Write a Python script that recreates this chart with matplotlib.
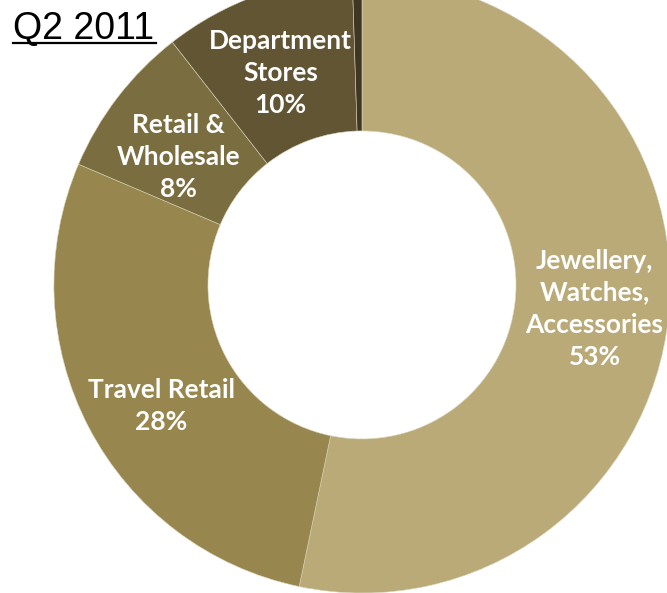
import numpy as np
import matplotlib.pyplot as plt
from matplotlib.lines import Line2D

# Q2 2011 sales split by channel
channels = ["Jewellery,\nWatches,\nAccessories", "Travel Retail", "Retail &\nWholesale",
            "Department\nStores", ""]
shares = [53, 28, 8, 10, 0.5]
colors = ["#B9AA78", "#97864D", "#7A6D3F", "#615533", "#3F3623"]

# small nudges (points) for each label, relative to the segment centre
nudge = [(2, 0), (3, -10), (0, -9), (-2, -4), (0, 0)]

fig = plt.figure(figsize=(6.67, 5.93), dpi=100)
ax = fig.add_axes([0, 0, 1, 1])

wedges, _ = ax.pie(shares, colors=colors, startangle=90, counterclock=False,
                   radius=1.0, wedgeprops=dict(width=0.5, edgecolor="#d9d2b8", linewidth=0.4))

# labels centred in each ring segment
for w, name, val, off in zip(wedges, channels, shares, nudge):
    if not name:
        continue
    mid = np.deg2rad((w.theta1 + w.theta2) / 2)
    r = 0.75
    ax.annotate(f"{name}\n{val}%", (r * np.cos(mid), r * np.sin(mid)), xytext=off,
                textcoords="offset points", ha="center", va="center", color="white",
                fontsize=19, fontweight="bold", family="Lato", linespacing=1.4)

ax.set_xlim(-1.175, 0.990)
ax.set_ylim(-1.0, 0.925)
ax.set_aspect("auto")
ax.axis("off")

fig.text(13 / 667, 1 - 39 / 593, "Q2 2011", fontsize=27, family="Liberation Sans",
         ha="left", va="baseline")
fig.add_artist(Line2D([13 / 667, 156 / 667], [1 - 43 / 593, 1 - 43 / 593],
                      color="black", linewidth=1.6, transform=fig.transFigure))

fig.savefig("out.png", dpi=100)
